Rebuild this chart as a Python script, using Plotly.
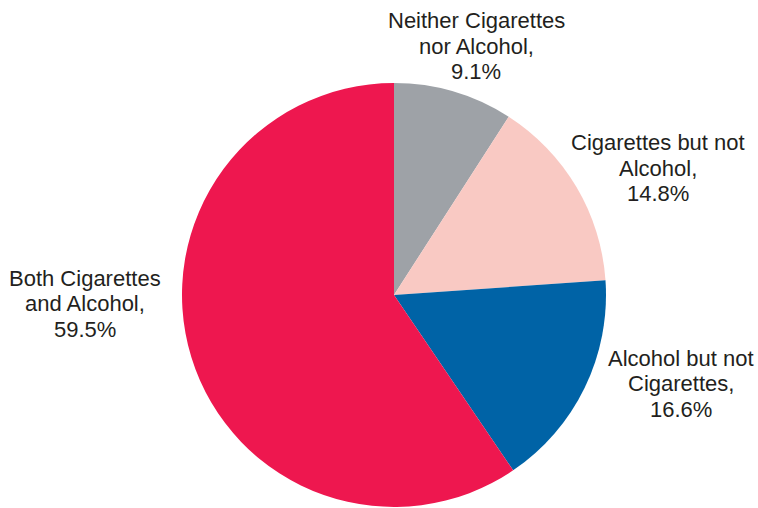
import plotly.graph_objects as go

labels = ["Neither Cigarettes nor Alcohol", "Cigarettes but not Alcohol",
          "Alcohol but not Cigarettes", "Both Cigarettes and Alcohol"]
values = [9.1, 14.8, 16.6, 59.5]
label_lines = [["Neither Cigarettes", "nor Alcohol,"],
               ["Cigarettes but not", "Alcohol,"],
               ["Alcohol but not", "Cigarettes,"],
               ["Both Cigarettes", "and Alcohol,"]]
colors = ["#9EA2A7", "#F9C9C3", "#0063A6", "#EE174F"]

W, H = 758, 508
cx, cy, r = 394, 295, 212

fig = go.Figure(go.Pie(
    labels=labels, values=values, sort=False, direction="clockwise", rotation=0,
    marker=dict(colors=colors, line=dict(width=0)),
    textinfo="none", hoverinfo="label+percent", showlegend=False,
    domain=dict(x=[(cx - r) / W, (cx + r) / W], y=[(H - cy - r) / H, (H - cy + r) / H]),
))

# label block: center x and first-line y (reference pixels), line spacing
label_pos = [(476, 20.5), (658, 142.5), (681, 358), (85, 278)]
line_gap = 25.5
font = dict(family="Liberation Sans, Arial, sans-serif", size=22, color="#231F20")
for lines, v, (px, py) in zip(label_lines, values, label_pos):
    for i, t in enumerate(lines + [f"{v:.1f}%"]):
        fig.add_annotation(
            x=px / W, y=1 - (py + i * line_gap) / H,
            xref="paper", yref="paper", text=t, showarrow=False,
            xanchor="center", yanchor="middle", align="center", font=font,
        )

fig.update_layout(
    width=W, height=H, margin=dict(l=0, r=0, t=0, b=0),
    paper_bgcolor="white", plot_bgcolor="white",
)
fig.write_html(
    "out.html",
    config={"displayModeBar": False},
    post_script="document.body.style.margin='0';document.body.style.overflow='hidden';",
)
